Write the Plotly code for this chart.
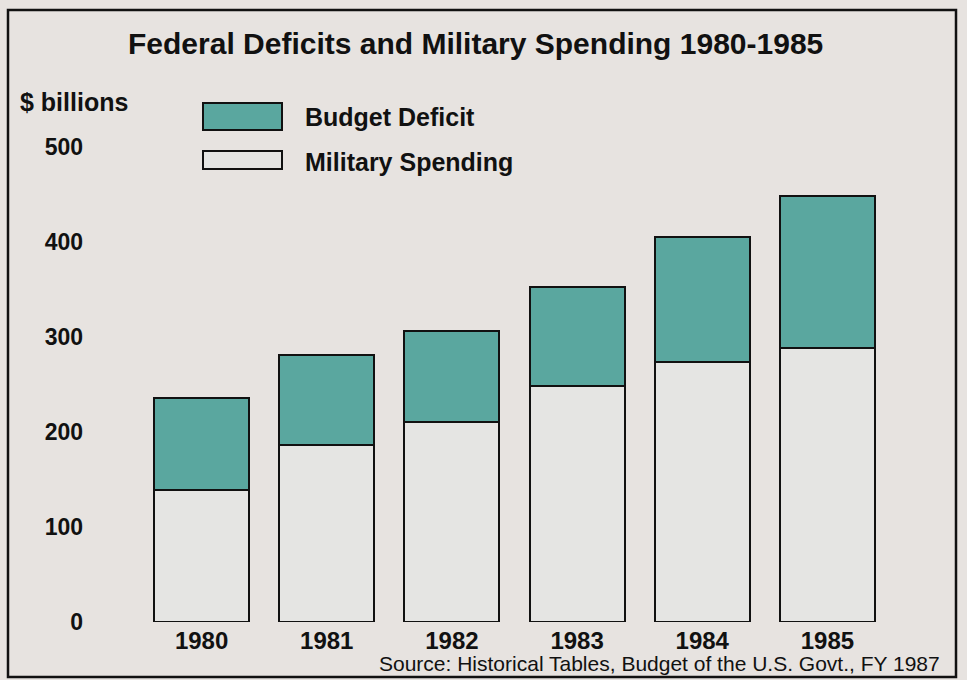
import plotly.graph_objects as go

years = ["1980", "1981", "1982", "1983", "1984", "1985"]
military = [139, 186, 211, 248, 274, 288]
deficit = [97, 95, 95, 105, 131, 160]
y_ticks = [0, 100, 200, 300, 400, 500]

W, H = 967, 680
L, R, T, B = 139, 890, 147, 622  # plot area in pixels

def px(x, y):
    return (x - L) / (R - L), (B - y) / (B - T)

TEAL = "#5aa79f"
LIGHT = "#e5e5e3"
BG = "#e7e3e0"
FONT = "Liberation Sans"

fig = go.Figure()
fig.add_trace(go.Bar(x=years, y=military, name="Military Spending",
                     marker=dict(color=LIGHT, line=dict(color="#111", width=2)),
                     width=0.76))
fig.add_trace(go.Bar(x=years, y=deficit, name="Budget Deficit",
                     marker=dict(color=TEAL, line=dict(color="#111", width=2)),
                     width=0.76))

shapes = []
# outer frame
x0, y0 = px(8, 677)
x1, y1 = px(956, 10)
shapes.append(dict(type="rect", xref="paper", yref="paper", x0=x0, y0=y0, x1=x1, y1=y1,
                   line=dict(color="#111", width=2.5), fillcolor="rgba(0,0,0,0)", layer="below"))
# legend swatches
for (ya, yb, col) in [(103, 130, TEAL), (151, 169, LIGHT)]:
    a0, b0 = px(203, yb)
    a1, b1 = px(282, ya)
    shapes.append(dict(type="rect", xref="paper", yref="paper", x0=a0, y0=b0, x1=a1, y1=b1,
                       line=dict(color="#111", width=2), fillcolor=col))

annotations = []
def ann(text, x, y, size, xanchor="left", bold=True):
    ax, ay = px(x, y)
    annotations.append(dict(text=f"<b>{text}</b>" if bold else text, x=ax, y=ay,
                            xref="paper", yref="paper", xanchor=xanchor, yanchor="middle",
                            showarrow=False, font=dict(family=FONT, size=size, color="#111")))

ann("Federal Deficits and Military Spending 1980-1985", 475, 44, 30, "center")
ann("$ billions", 18, 102, 25)
ann("Budget Deficit", 303, 117, 25)
ann("Military Spending", 303, 162, 25)
ann("Source: Historical Tables, Budget of the U.S. Govt., FY 1987", 942, 663, 21, "right", bold=False)

fig.update_layout(
    width=W, height=H,
    margin=dict(l=L, r=W - R, t=T, b=H - B),
    barmode="stack",
    showlegend=False,
    paper_bgcolor=BG, plot_bgcolor=BG,
    shapes=shapes, annotations=annotations,
    font=dict(family=FONT, color="#111"),
)
fig.update_xaxes(showgrid=False, showline=False, zeroline=False, ticks="",
                 tickfont=dict(family=FONT, size=24, color="#111", weight="bold"),
                 ticklabelstandoff=2, fixedrange=True)
fig.update_yaxes(range=[0, 500], tickvals=y_ticks, showgrid=False, showline=False,
                 zeroline=False, ticks="", ticklabelstandoff=55,
                 tickfont=dict(family=FONT, size=23, color="#111", weight="bold"),
                 fixedrange=True)

fig.write_html("out.html")
